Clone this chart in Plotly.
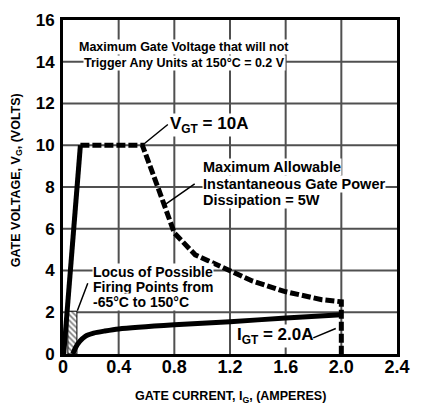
import plotly.graph_objects as go

# ---- data ----
x_ticks = [0, 0.4, 0.8, 1.2, 1.6, 2.0, 2.4]
x_tick_labels = ["0", "0.4", "0.8", "1.2", "1.6", "2.0", "2.4"]
y_ticks = [0, 2, 4, 6, 8, 10, 12, 14, 16]
y_tick_labels = ["0", "2", "4", "6", "8", "10", "12", "14", "16"]

# steep solid limit line (left)
left_x = [0.005, 0.125]
left_y = [0.0, 10.0]

# dashed boundary: V_GT = 10 line, 5 W power curve, I_GT = 2.0 A line
bound_x = [0.125, 0.57, 0.67, 0.74, 0.80, 0.95, 1.20, 1.36, 1.59, 1.86, 2.0, 2.0]
bound_y = [10.0, 10.0, 8.2, 6.9, 5.8, 4.75, 3.95, 3.5, 3.0, 2.6, 2.5, 0.0]

# lower solid curve
low_x = [0.07, 0.09, 0.12, 0.16, 0.22, 0.30, 0.40, 0.80, 1.20, 1.60, 2.0]
low_y = [0.0, 0.3, 0.6, 0.85, 1.0, 1.1, 1.2, 1.4, 1.55, 1.72, 1.88]

# locus of possible firing points (hatched)
locus_x = [0.035, 0.10, 0.10, 0.035, 0.035]
locus_y = [0.0, 0.0, 2.05, 2.05, 0.0]

FONT = "Liberation Sans, Arial, Helvetica, sans-serif"
GRID = "#505050"
x_min, x_max = x_ticks[0], x_ticks[-1]
y_min, y_max = y_ticks[0], y_ticks[-1]

fig = go.Figure()

# grid lines at the tick positions, drawn as line traces below the data
for xv in x_ticks[1:-1]:
    fig.add_trace(go.Scatter(x=[xv, xv], y=[y_min, y_max], mode="lines",
                             line=dict(color=GRID, width=2), hoverinfo="skip"))
for yv in y_ticks[1:-1]:
    fig.add_trace(go.Scatter(x=[x_min, x_max], y=[yv, yv], mode="lines",
                             line=dict(color=GRID, width=2), hoverinfo="skip"))

fig.add_trace(go.Scatter(x=locus_x, y=locus_y, mode="lines", fill="toself",
                         line=dict(color="black", width=1),
                         fillcolor="white",
                         fillpattern=dict(shape="\\", fgcolor="black", bgcolor="white",
                                          size=4, solidity=0.45),
                         hoverinfo="skip"))
fig.add_trace(go.Scatter(x=left_x, y=left_y, mode="lines",
                         line=dict(color="black", width=5)))
fig.add_trace(go.Scatter(x=low_x, y=low_y, mode="lines",
                         line=dict(color="black", width=5, shape="spline", smoothing=0.6)))
fig.add_trace(go.Scatter(x=bound_x, y=bound_y, mode="lines",
                         line=dict(color="black", width=5, dash="9px,3px")))

axis_common = dict(showline=True, mirror=True, linecolor="black", linewidth=3,
                   showgrid=False, zeroline=False, ticks="",
                   tickfont=dict(family=FONT, size=18, color="black", weight="bold"))

fig.update_xaxes(range=[x_min, x_max], tickmode="array", tickvals=x_ticks,
                 ticktext=x_tick_labels, ticklabelstandoff=-6, **axis_common)
fig.update_yaxes(range=[y_min, y_max], tickmode="array", tickvals=y_ticks,
                 ticktext=y_tick_labels, ticklabelstandoff=2, **axis_common)
fig.update_yaxes(tickfont=dict(size=17))

ann = []
def txt(text, x, y, size, xanchor="left", xref="x", yref="y", textangle=0, bg="white"):
    ann.append(dict(text=text, x=x, y=y, xref=xref, yref=yref, xanchor=xanchor,
                    yanchor="middle", showarrow=False, textangle=textangle,
                    bgcolor=bg, borderpad=0,
                    font=dict(family=FONT, size=size, color="black", weight="bold")))

def lead(x, y, ax, ay):
    ann.append(dict(text="", x=x, y=y, xref="x", yref="y", showarrow=True,
                    arrowhead=0, arrowwidth=1.5, arrowcolor="black",
                    ax=ax, ay=ay, standoff=0, startstandoff=0))

# top note
txt("Maximum Gate Voltage that will not", 0.871, 14.73, 12.5, xanchor="center")
txt("Trigger Any Units at 150°C = 0.2 V", 0.871, 13.93, 12.5, xanchor="center")

# V_GT label
txt("V<sub>GT</sub> = 10A", 0.761, 10.96, 17)
lead(0.57, 10.0, 27, -22)

# power dissipation label
txt("Maximum Allowable", 0.996, 8.94, 14.5)
txt("Instantaneous Gate Power", 0.996, 8.14, 14.5)
txt("Dissipation = 5W", 0.996, 7.40, 14.5)
lead(0.72, 7.1, 33, -23)

# locus label
txt("Locus of Possible", 0.207, 3.95, 14)
txt("Firing Points from", 0.207, 3.20, 14)
txt("-65°C to 150°C", 0.207, 2.47, 14)
lead(0.103, 2.07, 11, -29)

# I_GT label
txt("I<sub>GT</sub> = 2.0A", 1.245, 0.85, 17)
lead(1.96, 1.22, -24, 10)

# axis titles
txt("GATE CURRENT, I<sub>G</sub>, (AMPERES)", 0.501, -0.129, 12.5,
    xanchor="center", xref="paper", yref="paper", bg="rgba(0,0,0,0)")
txt("GATE VOLTAGE, V<sub>G</sub>, (VOLTS)", -0.138, 0.52, 12.5,
    xanchor="center", xref="paper", yref="paper", textangle=-90, bg="rgba(0,0,0,0)")

fig.update_layout(width=421, height=412, margin=dict(l=63, r=11, t=14, b=58),
                  plot_bgcolor="white", paper_bgcolor="white", showlegend=False,
                  annotations=ann)

fig.write_html("out.html")
